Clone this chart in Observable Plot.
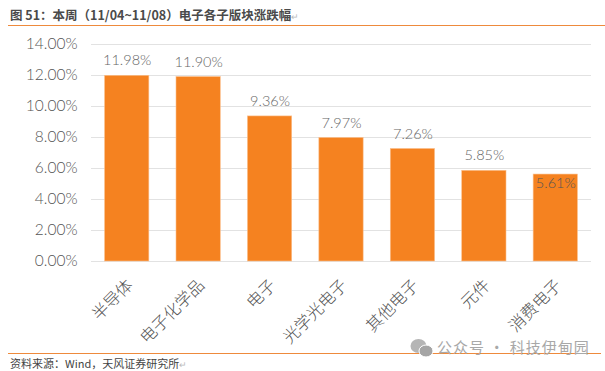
<!DOCTYPE html>
<html><head><meta charset="utf-8">
<script src="https://cdn.jsdelivr.net/npm/d3@7"></script>
<script src="https://cdn.jsdelivr.net/npm/@observablehq/plot@0.6"></script>
<style>
html,body{margin:0;padding:0;background:#fff;width:605px;height:371px;overflow:hidden}
#wrap{position:relative;width:605px;height:371px;font-family:"Noto Sans CJK SC",sans-serif}
#title{position:absolute;left:10px;top:5px;font-size:12.5px;font-weight:700;color:#4a4a4a;line-height:20px;white-space:nowrap}
#r1{position:absolute;left:8px;right:0;top:24.5px;height:1px;background:#ee8a3c}
#chart{position:absolute;left:0;top:26px}
#r2{position:absolute;left:8px;right:4px;top:353px;height:1px;background:#ee8a3c}
#cap{position:absolute;left:10px;top:354px;font-size:11px;color:#444;line-height:18px;white-space:nowrap}
#wm{position:absolute;left:437px;top:337px;font-size:15px;letter-spacing:1px;color:#a8a8a8;line-height:20px;white-space:nowrap}
.ret{color:#bbb;font-size:9px;font-weight:400}
svg text{font-family:"Lato","Noto Sans CJK SC",sans-serif;font-weight:300}
#icon{position:absolute;left:410px;top:338px}
</style></head><body>
<div id="wrap">
<div id="title">图 51：本周（11/04~11/08）电子各子版块涨跌幅<span class="ret">↵</span></div>
<div id="r1"></div>
<div id="chart"></div>
<div id="r2"></div>
<div id="cap">资料来源：Wind，天风证券研究所<span class="ret">↵</span></div>
<svg id="icon" width="24" height="20" viewBox="0 0 24 20"><ellipse cx="8.5" cy="8" rx="8" ry="7" fill="#b5b5b5"/><ellipse cx="16" cy="13" rx="7" ry="6" fill="#a5a5a5" stroke="#fff"/></svg>
<div id="wm">公众号 · 科技伊甸园</div>
</div>
<script>
const categories = ["半导体","电子化学品","电子","光学光电子","其他电子","元件","消费电子"];
const values = [11.98,11.90,9.36,7.97,7.26,5.85,5.61];
const yTicks = [0,2,4,6,8,10,12,14];
const rows = categories.map((c,i)=>({c,v:values[i]}));
const fmt = d => d.toFixed(2)+"%";
const lastCat = categories[categories.length-1];
const chart = Plot.plot({
  width:605,height:327,
  marginLeft:91,marginRight:14,marginTop:18,marginBottom:92,
  style:{background:"transparent",overflow:"visible"},
  x:{domain:categories,paddingInner:0.38,paddingOuter:0.19,round:false,label:null},
  y:{domain:[0,14],label:null},
  marks:[
    Plot.ruleY(yTicks,{stroke:"#e2e2e2",strokeWidth:1.2}),
    Plot.barY(rows,{x:"c",y:"v",fill:"#f58220",stroke:"#fbc08e",strokeWidth:0.6}),
    Plot.text(rows.filter(d=>d.c!==lastCat),{x:"c",y:"v",text:d=>fmt(d.v),dy:-15,fontSize:14.5,fill:"#666666"}),
    Plot.text(rows.filter(d=>d.c===lastCat),{x:"c",y:"v",text:d=>fmt(d.v),dy:9,fontSize:14.5,fill:"#555555"}),
    Plot.axisY({ticks:yTicks,tickFormat:fmt,tickSize:0,tickPadding:14,fontSize:15.5,color:"#555555",label:null}),
    Plot.axisX({tickSize:0,tickRotate:-45,tickPadding:21,dx:3,fontSize:16.5,color:"#555555",label:null})
  ]
});
document.getElementById("chart").appendChild(chart);
</script>
</body></html>
